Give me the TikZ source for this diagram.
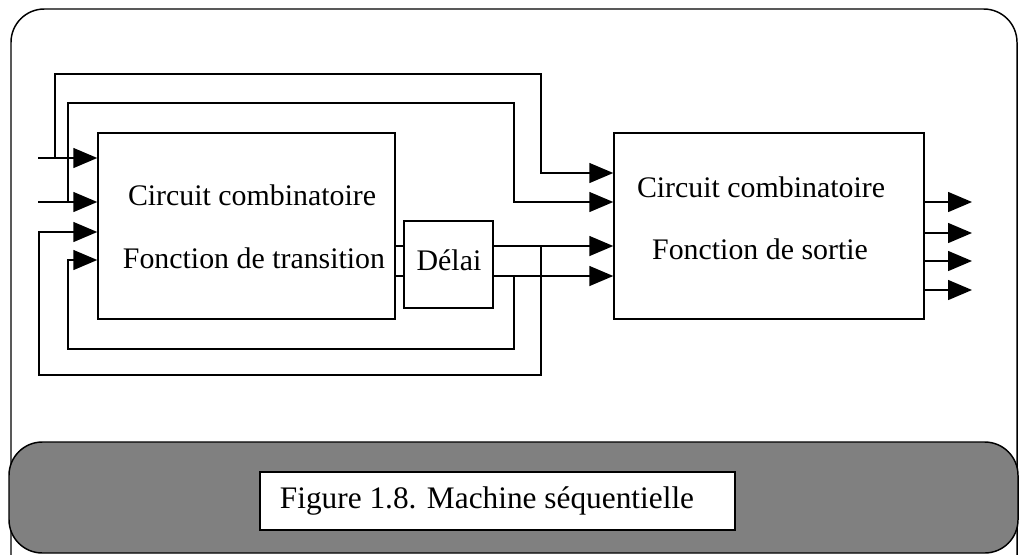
\documentclass[tikz,border=0pt]{standalone}
\usepackage{fontspec}
\setmainfont{Liberation Serif}
\usetikzlibrary{arrows.meta}

\tikzset{every picture/.style={line width=1.1pt}}
\tikzset{
  blockbox/.style={draw, rectangle, inner sep=0pt},
  lbl/.style={anchor=base, inner sep=0pt, font=\fontsize{22.4}{27}\selectfont},
  flow/.style={-{Triangle[length=18pt,width=15pt]}},
}

\begin{document}
\begin{tikzpicture}[x=0.75pt,y=0.75pt,yscale=-1,xscale=1]
\useasboundingbox (0,0) rectangle (1019,554);

%Shape: Rounded Rect [id:frame]
\draw [rounded corners=25pt] (11,9) rectangle (1017,600) ;
%Shape: Rounded Rect [id:band]
\draw [fill={rgb, 255:red, 128; green, 128; blue, 128 }, rounded corners=25pt] (9,442) rectangle (1018,553) ;

%Shape: Rectangle [id:trans]
\node [blockbox, minimum width=222.75pt, minimum height=139.5pt] (trans) at (246.5,226) {};
%Shape: Rectangle [id:delai]
\node [blockbox, minimum width=66.75pt, minimum height=65.25pt] (delai) at (448.5,264.5) {};
%Shape: Rectangle [id:sortie]
\node [blockbox, minimum width=232.5pt, minimum height=139.5pt] (sortie) at (769,226) {};

% Text Node
\node [lbl] (tcc) at (252,205) {Circuit combinatoire};
% Text Node
\node [lbl] (tft) at (254,268) {Fonction de transition};
% Text Node
\node [lbl] (tdl) at (449,270) {Délai};
% Text Node
\node [lbl] (scc) at (761,197) {Circuit combinatoire};
% Text Node
\node [lbl] (sfs) at (760,259) {Fonction de sortie};

%Coordinates of the wires
\coordinate (inA) at (38,158) ;
\coordinate (inB) at (38,202) ;
\coordinate (jA) at (55,158) ;
\coordinate (jB) at (68,202) ;
\coordinate (qA) at (541,246) ;
\coordinate (qB) at (514,276) ;

%Straight Lines [id:inputs]
\draw [flow] (inA) -- (trans.west |- inA) ;
\draw [flow] (inB) -- (trans.west |- inB) ;
%Straight Lines [id:loopA]
\draw [flow] (jA) -- (55,74) -- (541,74) -- (541,173) -- (sortie.west |- 0,173) ;
%Straight Lines [id:loopB]
\draw [flow] (jB) -- (68,103) -- (514,103) -- (514,202) -- (sortie.west |- 0,202) ;
%Straight Lines [id:tr2dl]
\draw (trans.east |- qA) -- (delai.west |- qA) ;
\draw (trans.east |- qB) -- (delai.west |- qB) ;
%Straight Lines [id:dl2so]
\draw [flow] (delai.east |- qA) -- (sortie.west |- qA) ;
\draw [flow] (delai.east |- qB) -- (sortie.west |- qB) ;
%Straight Lines [id:fbA]
\draw [flow] (qA) -- (541,375) -- (39,375) -- (39,232) -- (trans.west |- 0,232) ;
%Straight Lines [id:fbB]
\draw [flow] (qB) -- (514,349) -- (68,349) -- (68,260) -- (trans.west |- 0,260) ;
%Straight Lines [id:outputs]
\foreach \y in {202,233,261,290}
  \draw [flow] (sortie.east |- 0,\y) -- (972,\y) ;

%Shape: Rectangle [id:capbox]
\node [draw, fill=white, minimum width=356.25pt, minimum height=43.5pt, inner sep=0pt] (capbox) at (497.5,501) {};
% Text Node
\node [inner sep=0pt, font=\fontsize{23.5}{28}\selectfont] (cap) at (487,501) {Figure 1.8. Machine séquentielle};

\end{tikzpicture}
\end{document}
